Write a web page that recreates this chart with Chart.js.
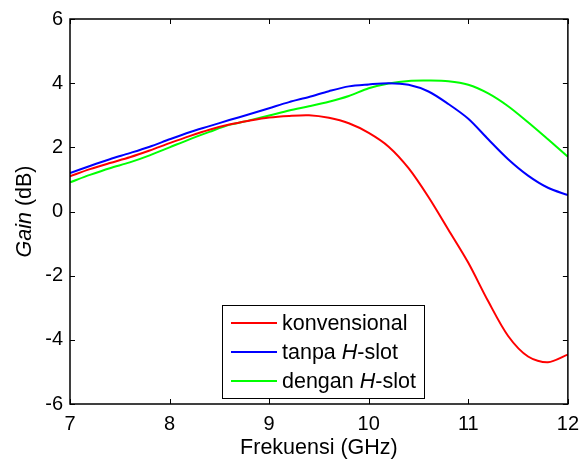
<!DOCTYPE html>
<html>
<head>
<meta charset="utf-8">
<script src="https://cdn.jsdelivr.net/npm/chart.js@4.4.1/dist/chart.umd.min.js"></script>
<style>
  body { margin: 0; background: #fff; }
  #wrap { width: 587px; height: 461px; }
</style>
</head>
<body>
<div id="wrap"><canvas id="gainChart" width="587" height="461"></canvas></div>
<script>
// frequency (GHz) and gain (dB) for the three antenna designs
var freq = [7.0, 7.2, 7.4, 7.6, 7.8, 8.0, 8.2, 8.4, 8.6, 8.8, 9.0, 9.2, 9.4,
            9.6, 9.8, 10.0, 10.2, 10.4, 10.6, 10.8, 11.0, 11.2, 11.4, 11.6, 11.8, 12.0];
var gainKonvensional = [1.10, 1.32, 1.51, 1.69, 1.90, 2.13, 2.35, 2.55, 2.71, 2.83, 2.93, 2.98, 3.00,
                        2.92, 2.75, 2.45, 2.02, 1.35, 0.45, -0.57, -1.60, -2.80, -3.88, -4.52, -4.70, -4.46];
var gainTanpa = [1.20, 1.42, 1.63, 1.82, 2.02, 2.25, 2.47, 2.66, 2.85, 3.03, 3.22, 3.41, 3.57,
                 3.75, 3.90, 3.96, 4.00, 3.95, 3.74, 3.35, 2.89, 2.25, 1.63, 1.12, 0.74, 0.51];
var gainDengan = [0.91, 1.14, 1.35, 1.53, 1.75, 2.00, 2.25, 2.48, 2.70, 2.84, 2.99, 3.15, 3.28,
                  3.42, 3.60, 3.84, 3.99, 4.07, 4.08, 4.06, 3.95, 3.68, 3.28, 2.78, 2.25, 1.71];

var xTicks = [7, 8, 9, 10, 11, 12];
var yTicks = [-6, -4, -2, 0, 2, 4, 6];

// legend text, split so the "H" can be italic
var legendParts = [
  [["konvensional", false]],
  [["tanpa ", false], ["H", true], ["-slot", false]],
  [["dengan ", false], ["H", true], ["-slot", false]]
];
var seriesColors = ["#ff0000", "#0000ff", "#00ff00"];

var FONT = "'Liberation Sans', Arial, sans-serif";
var LABEL_SIZE = 21.5;

function toPoints(ys) {
  return freq.map(function (f, i) {
    return { x: f, y: ys[i] };
  });
}

function drawParts(ctx, parts, x, y, size) {
  parts.forEach(function (p) {
    ctx.font = (p[1] ? "italic " : "") + size + "px " + FONT;
    ctx.fillText(p[0], x, y);
    x += ctx.measureText(p[0]).width;
  });
}

function partsWidth(ctx, parts, size) {
  var w = 0;
  parts.forEach(function (p) {
    ctx.font = (p[1] ? "italic " : "") + size + "px " + FONT;
    w += ctx.measureText(p[0]).width;
  });
  return w;
}

// box, inward ticks, y title and legend
var framePlugin = {
  id: "frame",
  afterDatasetsDraw: function (chart) {
    var ctx = chart.ctx;
    var a = chart.chartArea;
    var xs = chart.scales.x;
    var ys = chart.scales.y;
    var tl = 5;
    ctx.save();
    ctx.strokeStyle = "#000";
    ctx.lineWidth = 1;
    ctx.beginPath();
    xTicks.forEach(function (v) {
      var px = Math.round(xs.getPixelForValue(v)) + 0.5;
      ctx.moveTo(px, a.bottom);
      ctx.lineTo(px, a.bottom - tl);
      ctx.moveTo(px, a.top);
      ctx.lineTo(px, a.top + tl);
    });
    yTicks.forEach(function (v) {
      var py = Math.round(ys.getPixelForValue(v)) + 0.5;
      ctx.moveTo(a.left, py);
      ctx.lineTo(a.left + tl, py);
      ctx.moveTo(a.right, py);
      ctx.lineTo(a.right - tl, py);
    });
    ctx.stroke();
    ctx.lineWidth = 1.5;
    ctx.strokeRect(a.left, a.top, a.right - a.left, a.bottom - a.top);

    // legend
    var lx = 222, ly = 305, lw = 202, lh = 93;
    ctx.fillStyle = "#fff";
    ctx.fillRect(lx, ly, lw, lh);
    ctx.lineWidth = 1;
    ctx.strokeRect(lx + 0.5, ly + 0.5, lw, lh);
    ctx.textBaseline = "middle";
    ctx.textAlign = "left";
    chart.data.datasets.forEach(function (ds, i) {
      var ry = ly + 18 + i * 29;
      ctx.strokeStyle = ds.borderColor;
      ctx.lineWidth = 2;
      ctx.beginPath();
      ctx.moveTo(231, ry);
      ctx.lineTo(277, ry);
      ctx.stroke();
      ctx.fillStyle = "#000";
      drawParts(ctx, legendParts[i], 282, ry + 1, LABEL_SIZE);
    });

    // y axis title
    var title = [["Gain", true], [" (dB)", false]];
    ctx.translate(25, (a.top + a.bottom) / 2);
    ctx.rotate(-Math.PI / 2);
    var w = partsWidth(ctx, title, LABEL_SIZE);
    drawParts(ctx, title, -w / 2, 0, LABEL_SIZE);
    ctx.restore();
  }
};

var ctxG = document.getElementById("gainChart").getContext("2d");
var gainChart = new Chart(ctxG, {
  type: "line",
  data: {
    datasets: [
      { label: "konvensional", data: toPoints(gainKonvensional) },
      { label: "tanpa H-slot", data: toPoints(gainTanpa) },
      { label: "dengan H-slot", data: toPoints(gainDengan) }
    ].map(function (ds, i) {
      ds.borderColor = seriesColors[i];
      ds.backgroundColor = seriesColors[i];
      ds.borderWidth = 2;
      ds.pointRadius = 0;
      ds.tension = 0.3;
      ds.fill = false;
      return ds;
    })
  },
  options: {
    responsive: false,
    animation: false,
    events: [],
    layout: { padding: { left: 0, right: 18, top: 14, bottom: 0 } },
    plugins: {
      legend: { display: false },
      tooltip: { enabled: false }
    },
    scales: {
      x: {
        type: "linear",
        min: 7,
        max: 12,
        afterFit: function (s) { s.height = 57; },
        afterBuildTicks: function (s) {
          s.ticks = xTicks.map(function (v) { return { value: v }; });
        },
        grid: { display: false, drawTicks: false },
        border: { display: false },
        ticks: { color: "#000", padding: 8, font: { family: FONT, size: 20 } },
        title: {
          display: true,
          text: "Frekuensi (GHz)",
          color: "#000",
          padding: 0,
          font: { family: FONT, size: LABEL_SIZE }
        }
      },
      y: {
        min: -6,
        max: 6,
        afterFit: function (s) { s.width = 70; },
        afterBuildTicks: function (s) {
          s.ticks = yTicks.map(function (v) { return { value: v }; });
        },
        grid: { display: false, drawTicks: false },
        border: { display: false },
        ticks: { color: "#000", padding: 7, font: { family: FONT, size: 20 } }
      }
    }
  },
  plugins: [framePlugin]
});
</script>
</body>
</html>
